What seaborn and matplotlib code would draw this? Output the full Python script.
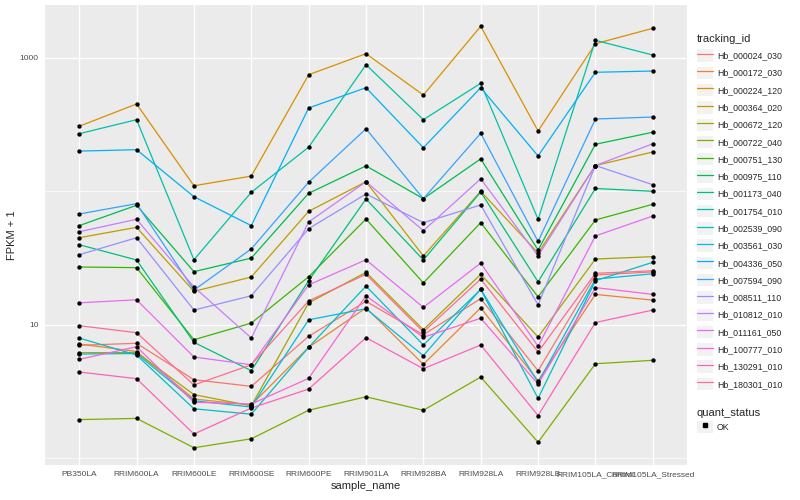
import matplotlib
matplotlib.use('Agg')
import matplotlib.pyplot as plt
from matplotlib.lines import Line2D
from matplotlib.patches import Patch
import seaborn as sns
import pandas as pd

samples = ['PB350LA', 'RRIM600LA', 'RRIM600LE', 'RRIM600SE', 'RRIM600PE', 'RRIM901LA',
           'RRIM928BA', 'RRIM928LA', 'RRIM928LB', 'RRIM105LA_Control', 'RRIM105LA_Stressed']

tracking_ids = ['Hb_000024_030', 'Hb_000172_030', 'Hb_000224_120', 'Hb_000364_020', 'Hb_000672_120',
                'Hb_000722_040', 'Hb_000751_130', 'Hb_000975_110', 'Hb_001173_040', 'Hb_001754_010',
                'Hb_002539_090', 'Hb_003561_030', 'Hb_004336_050', 'Hb_007594_090', 'Hb_008511_110',
                'Hb_010812_010', 'Hb_011161_050', 'Hb_100777_010', 'Hb_130291_010', 'Hb_180301_010']

# ggplot default hue palette for 20 levels
colors = ['#F8766D', '#EA8331', '#D89000', '#C09B00', '#A3A500', '#7CAE00', '#39B600', '#00BB4E',
          '#00BF7D', '#00C1A3', '#00BFC4', '#00BAE0', '#00B0F6', '#35A2FF', '#9590FF', '#C77CFF',
          '#E76BF3', '#FA62DB', '#FF62BC', '#FF6C91']

# FPKM + 1, one value per sample
hb_000024_030 = [7.02, 7.27, 3.88, 3.46, 8.20, 15.0, 8.43, 15.7, 4.53, 23.6, 24.9]
hb_000172_030 = [7.18, 6.31, 2.78, 2.51, 6.78, 13.4, 5.06, 13.4, 3.81, 16.9, 15.3]
hb_000224_120 = [307, 451, 110, 130, 747, 1074, 526, 1722, 283, 1275, 1663]
hb_000364_020 = [44.9, 53.7, 17.8, 22.8, 70.8, 118, 32.8, 100, 34.5, 156, 197]
hb_000672_120 = [6.18, 6.20, 3.00, 2.47, 14.6, 24.7, 9.19, 23.9, 8.10, 31.1, 32.4]
hb_000722_040 = [1.95, 1.99, 1.20, 1.40, 2.29, 2.89, 2.29, 4.06, 1.32, 5.11, 5.42]
hb_000751_130 = [27.1, 26.8, 7.73, 10.3, 22.9, 62.0, 20.6, 58.2, 16.2, 61.0, 79.9]
hb_000975_110 = [55.3, 78.6, 25.0, 31.6, 96.6, 155, 88.0, 175, 36.3, 225, 277]
hb_001173_040 = [39.8, 30.6, 7.39, 4.53, 21.4, 87.6, 30.6, 98.8, 21.0, 105, 100]
hb_001754_010 = [270, 344, 30.7, 98.3, 214, 888, 344, 644, 61.7, 1352, 1049]
hb_002539_090 = [7.96, 5.94, 2.35, 2.14, 6.78, 19.5, 7.06, 18.4, 2.81, 21.4, 29.4]
hb_003561_030 = [6.04, 6.09, 2.70, 2.42, 10.9, 13.2, 5.87, 18.5, 3.70, 22.0, 24.1]
hb_004336_050 = [200, 205, 91.1, 55.3, 421, 597, 212, 597, 184, 779, 796]
hb_007594_090 = [67.6, 80.8, 18.2, 37.0, 117, 294, 88.0, 272, 42.1, 348, 360]
hb_008511_110 = [33.5, 44.9, 12.9, 16.5, 52.5, 95.4, 58.2, 79.0, 14.1, 156, 112]
hb_010812_010 = [49.8, 61.7, 19.2, 7.96, 58.9, 118, 50.7, 124, 32.8, 156, 227]
hb_011161_050 = [14.6, 15.4, 5.74, 5.02, 19.9, 30.7, 13.5, 29.0, 6.90, 46.3, 65.3]
hb_100777_010 = [5.51, 6.85, 2.63, 2.55, 3.97, 16.5, 8.06, 11.2, 3.60, 19.0, 16.9]
hb_130291_010 = [4.43, 3.95, 1.52, 2.38, 3.30, 8.01, 4.69, 7.06, 2.09, 10.4, 12.9]
hb_180301_010 = [9.85, 8.73, 3.54, 5.02, 15.1, 23.9, 8.83, 22.0, 6.26, 24.3, 25.4]

series = [hb_000024_030, hb_000172_030, hb_000224_120, hb_000364_020, hb_000672_120,
          hb_000722_040, hb_000751_130, hb_000975_110, hb_001173_040, hb_001754_010,
          hb_002539_090, hb_003561_030, hb_004336_050, hb_007594_090, hb_008511_110,
          hb_010812_010, hb_011161_050, hb_100777_010, hb_130291_010, hb_180301_010]

rows = []
for tid, vals in zip(tracking_ids, series):
    for s, v in zip(samples, vals):
        rows.append({'tracking_id': tid, 'sample_name': s, 'fpkm': v, 'quant_status': 'OK'})
df = pd.DataFrame(rows)

sns.set_style('darkgrid', {'axes.facecolor': '#EBEBEB', 'grid.color': 'white'})
plt.rcParams['font.family'] = ['Liberation Sans', 'DejaVu Sans']

fig, ax = plt.subplots(figsize=(8, 5), dpi=100)
fig.subplots_adjust(left=0.056, right=0.859, top=0.99, bottom=0.07)

sns.lineplot(data=df, x='sample_name', y='fpkm', hue='tracking_id', hue_order=tracking_ids,
             palette=colors, estimator=None, sort=False, linewidth=0.9, legend=False, ax=ax)
sns.scatterplot(data=df, x='sample_name', y='fpkm', color='black', s=10, linewidth=0,
                legend=False, ax=ax, zorder=3)

ax.set_yscale('log')
ax.set_ylim(0.891, 2486)
ax.set_xlim(-0.6, 10.6)
ax.set_yticks([10, 1000])
ax.set_yticklabels(['10', '1000'])
ax.set_yticks([1, 100], minor=True)
ax.yaxis.set_minor_formatter(matplotlib.ticker.NullFormatter())
ax.grid(True, which='major', color='white', linewidth=1.0)
ax.grid(True, which='minor', axis='y', color='white', linewidth=0.5)
for sp in ax.spines.values():
    sp.set_visible(False)
ax.tick_params(which='major', length=2.5, width=0.6, color='#333333', labelcolor='#4D4D4D',
               labelsize=6, pad=2)
ax.tick_params(which='minor', length=0)

ax.set_xlabel('sample_name', fontsize=8, labelpad=2)
ax.set_ylabel('FPKM + 1', fontsize=8, labelpad=2)

key_bg = '#F2F2F2'
handles = [(Patch(facecolor=key_bg, edgecolor='none'), Line2D([], [], color=c, linewidth=0.9))
           for c in colors]
leg1 = fig.legend(handles, tracking_ids, loc='upper left', bbox_to_anchor=(0.871, 0.931),
                  frameon=False, title='tracking_id', fontsize=6.3, title_fontsize=8,
                  handlelength=1.9, handleheight=1.8, labelspacing=0.56, handletextpad=0.4,
                  borderaxespad=0, borderpad=0, alignment='left')

ok_handle = [(Patch(facecolor=key_bg, edgecolor='none'),
              Line2D([], [], color='black', marker='s', markersize=2.5, linestyle='none'))]
leg2 = fig.legend(ok_handle, ['OK'], loc='upper left', bbox_to_anchor=(0.871, 0.184),
                  frameon=False, title='quant_status', fontsize=6.3, title_fontsize=8,
                  handlelength=1.9, handleheight=1.8, labelspacing=0.3, handletextpad=0.4,
                  borderaxespad=0, borderpad=0, alignment='left')

fig.savefig('out.png', dpi=100)
